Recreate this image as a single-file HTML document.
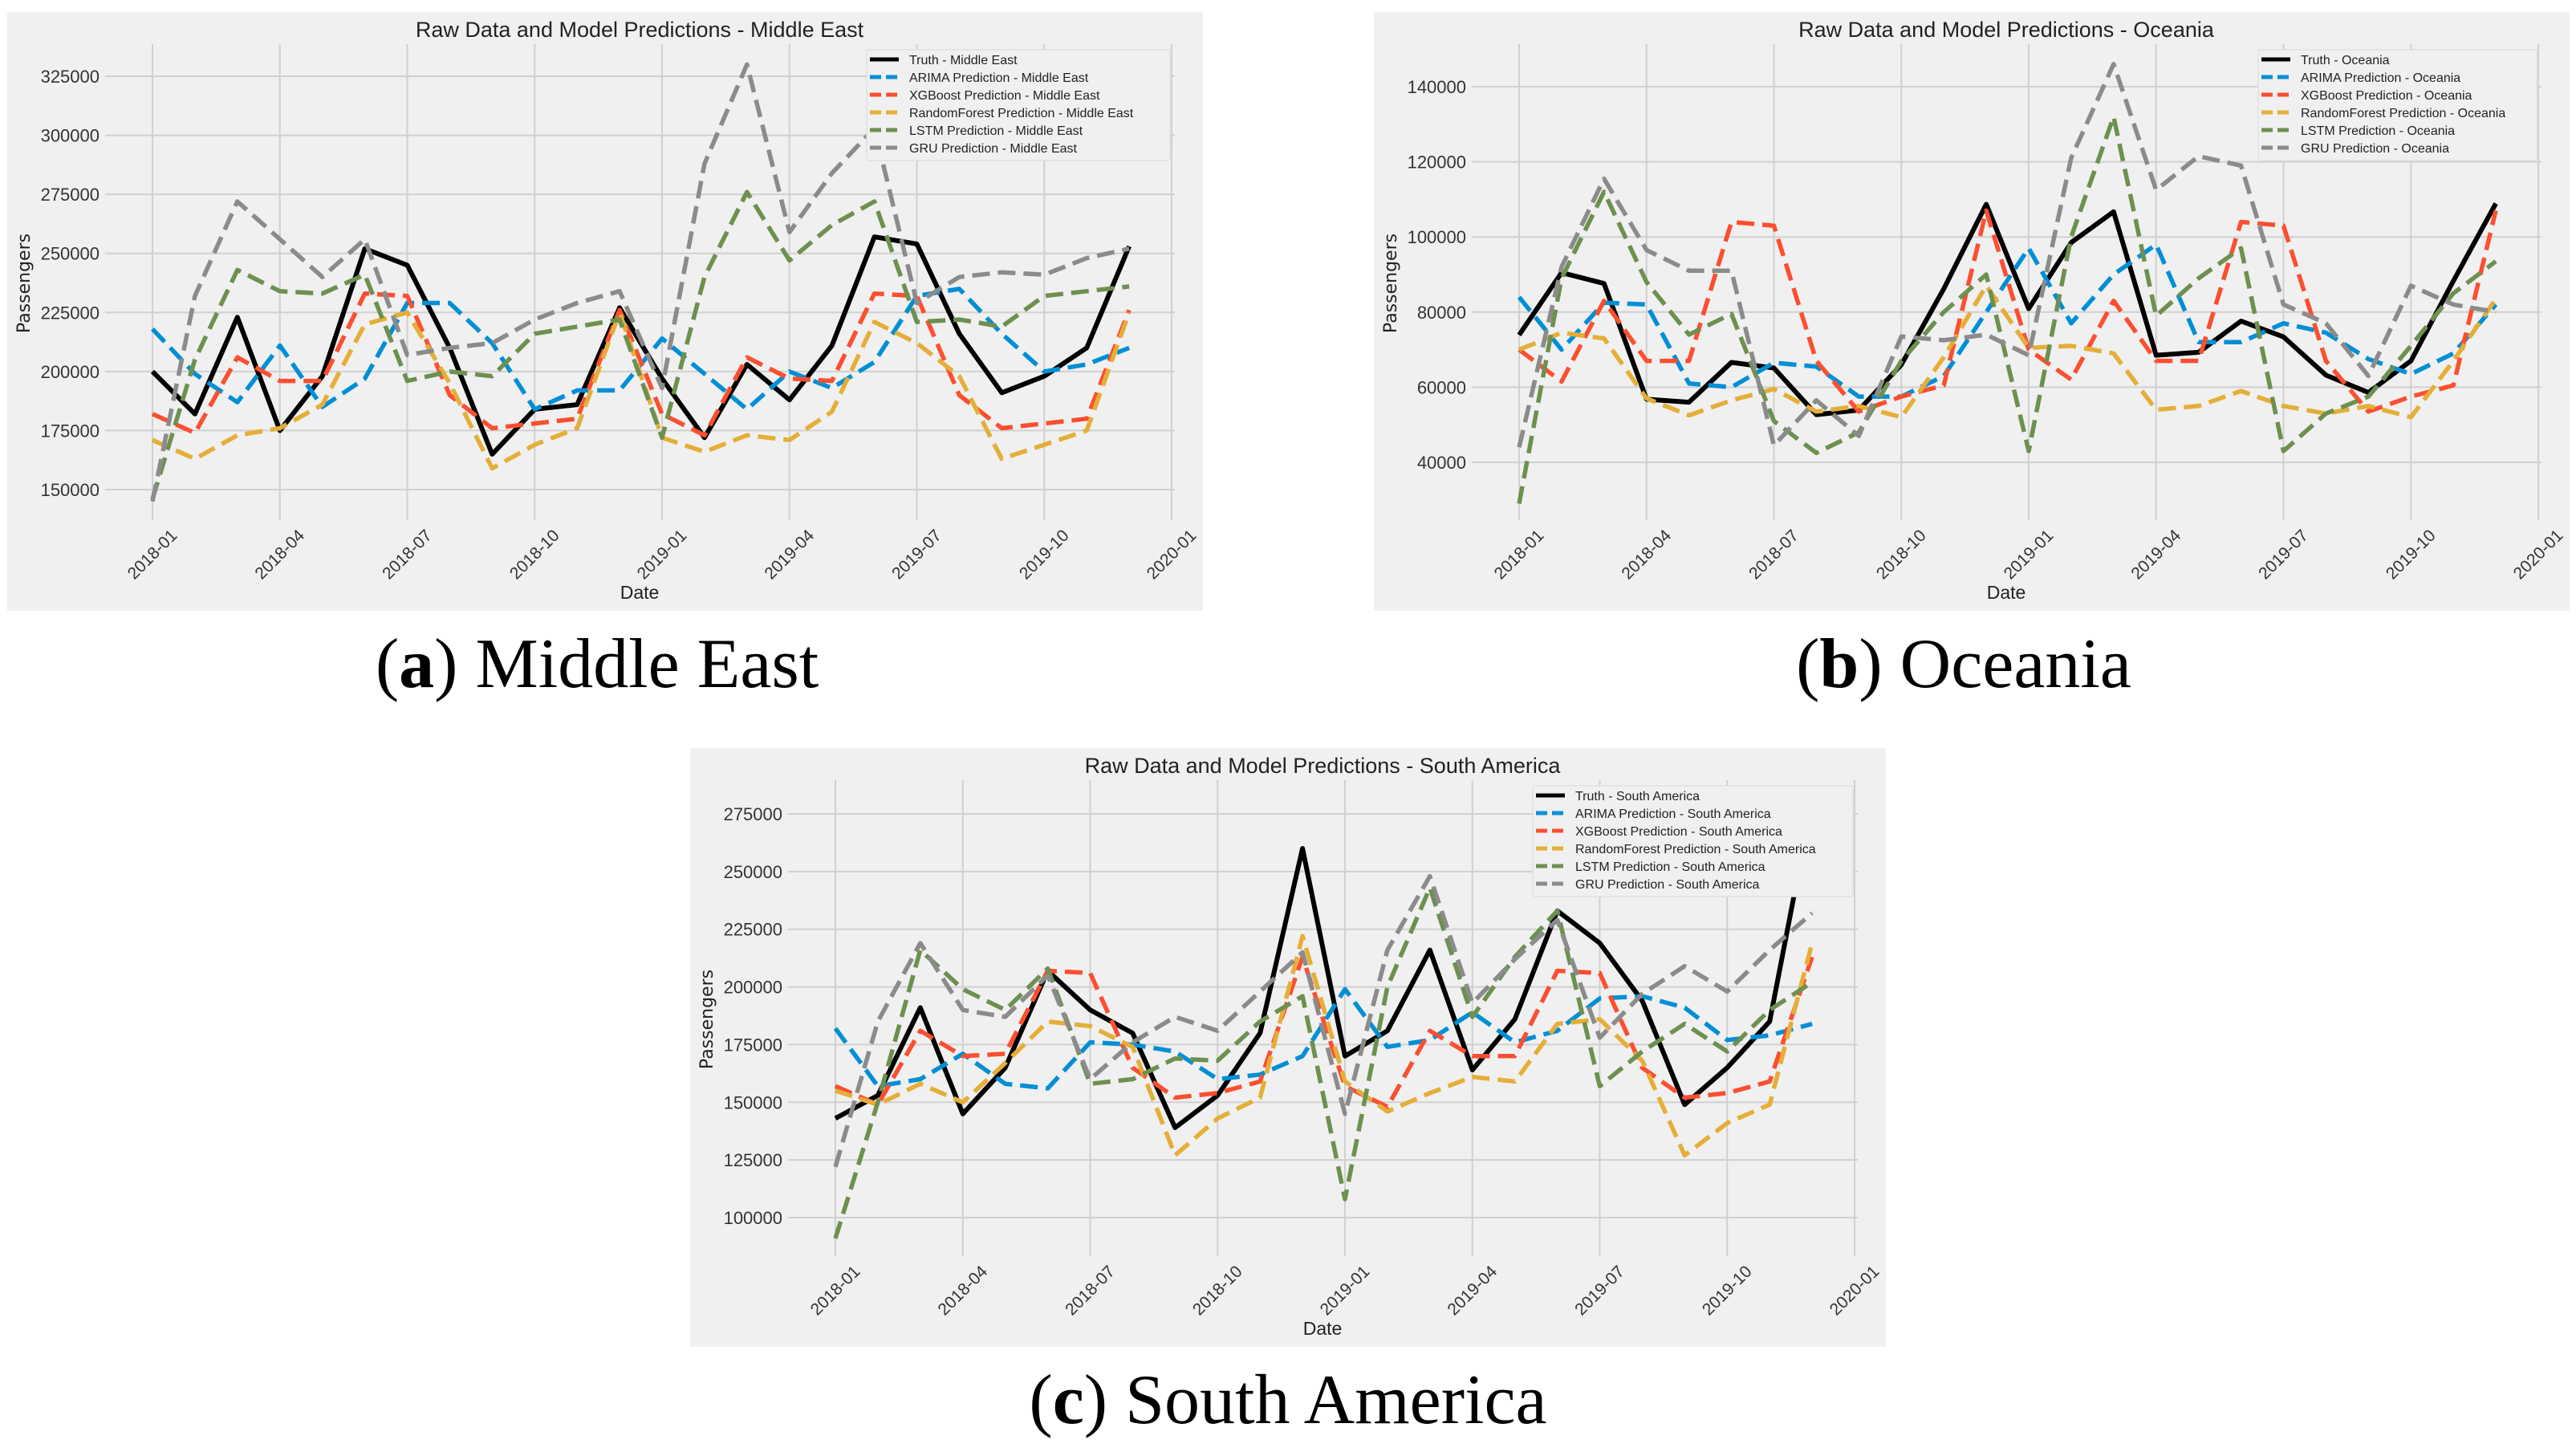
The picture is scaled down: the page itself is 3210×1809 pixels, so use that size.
<!DOCTYPE html>
<html><head><meta charset="utf-8"><style>
html,body{margin:0;padding:0;background:#fff;}
svg text{font-family:"Liberation Sans",sans-serif;}
</style></head><body>
<svg id="root" width="3210" height="1804" xmlns="http://www.w3.org/2000/svg">
<text x="744" y="856" text-anchor="middle" font-size="88" style="font-family:'Liberation Serif',serif">(<tspan font-weight="bold">a</tspan>) Middle East</text>
<text x="2447" y="856" text-anchor="middle" font-size="88" style="font-family:'Liberation Serif',serif">(<tspan font-weight="bold">b</tspan>) Oceania</text>
<text x="1605" y="1773" text-anchor="middle" font-size="88" style="font-family:'Liberation Serif',serif">(<tspan font-weight="bold">c</tspan>) South America</text>
</svg>
<script>
const xTickLabels=["2018-01","2018-04","2018-07","2018-10","2019-01","2019-04","2019-07","2019-10","2020-01"];
const seriesNames=["Truth","ARIMA Prediction","XGBoost Prediction","RandomForest Prediction","LSTM Prediction","GRU Prediction"];
const seriesColors=["#000000","#008fd5","#fc4f30","#e5ae38","#6d904f","#8b8b8b"];

const meTruth=[200000,182000,223000,175000,198000,252000,245000,210000,165000,184000,186000,227000,197000,172000,203000,188000,211000,257000,254000,216000,191000,198000,210000,253000];
const meArima=[218000,199000,187000,211000,185000,197000,229000,229000,212000,184000,192000,192000,214000,199000,184000,200000,193000,204000,232000,235000,216000,200000,203000,210000];
const meXgb=[182000,174000,206000,196000,196000,233000,232000,190000,176000,178000,180000,226000,182000,173000,206000,197000,196000,233000,232000,190000,176000,178000,180000,226000];
const meRf=[171000,163000,173000,176000,186000,220000,225000,195000,159000,169000,176000,225000,172000,166000,173000,171000,183000,221000,212000,198000,163000,169000,175000,225000];
const meLstm=[146000,205000,243000,234000,233000,241000,196000,200000,198000,216000,219000,222000,172000,240000,276000,247000,262000,272000,221000,222000,219000,232000,234000,236000];
const meGru=[145000,232000,272000,256000,240000,256000,207000,210000,212000,222000,229000,234000,193000,288000,330000,259000,284000,303000,229000,240000,242000,241000,248000,252000];
const meYTicks=[150000,175000,200000,225000,250000,275000,300000,325000];

const ocTruth=[73900,90500,87600,56800,56000,66600,65100,52700,53900,66000,86200,108700,80900,98500,106700,68500,69300,77600,73400,63200,58600,67000,88300,108900];
const ocArima=[84000,70000,82500,82000,61000,60000,66500,65500,57500,57500,63000,80000,97000,77000,90000,98000,72000,72000,77000,74500,67500,63500,69000,82000];
const ocXgb=[70000,61500,83000,67000,67000,104000,103000,67000,53500,57500,60500,107000,70000,62000,83000,67000,67000,104000,103000,67000,53500,57500,60500,107000];
const ocRf=[70000,74500,73000,57000,52500,56500,59500,53500,55000,52000,68000,87000,70500,71000,69000,54000,55000,59000,55000,53000,55000,52000,67000,83500];
const ocLstm=[29000,89000,112000,88000,74000,79500,51000,42500,48000,67000,80000,90000,43000,100000,132000,79000,89000,97000,43000,53000,57500,71000,85000,93500];
const ocGru=[44000,92000,115500,96500,91000,91000,44500,56500,47000,73500,72500,74000,68500,121000,146000,112500,121500,119000,82000,77000,63000,87000,82000,80000];
const ocYTicks=[40000,60000,80000,100000,120000,140000];

const saTruth=[143000,153000,191000,145000,165000,207000,190000,180000,139000,153000,180000,260000,170000,181000,216000,164000,186000,233000,219000,194000,149000,165000,185000,280000];
const saArima=[182000,157000,160000,171000,158000,156000,176000,175000,172000,160000,162000,170000,199000,174000,177000,189000,176000,181000,195000,196000,191000,177000,179000,184000];
const saXgb=[157000,149000,181000,170000,171000,207000,206000,165000,152000,154000,159000,213000,157000,148000,181000,170000,170000,207000,206000,165000,152000,154000,159000,213000];
const saRf=[155000,149000,158000,150000,167000,185000,183000,174000,127000,143000,152000,222000,159000,146000,154000,161000,159000,184000,186000,168000,127000,141000,149000,219000];
const saLstm=[91000,150000,216000,199000,190000,208000,158000,160000,169000,168000,185000,196000,108000,200000,243000,187000,213000,233000,157000,172000,184000,172000,190000,202000];
const saGru=[122000,185000,219000,190000,187000,205000,160000,176000,187000,181000,198000,215000,145000,216000,248000,193000,212000,229000,178000,197000,209000,198000,216000,232000];
const saYTicks=[100000,125000,150000,175000,200000,225000,250000,275000];

const NS="http://www.w3.org/2000/svg";
const root=document.getElementById('root');
function mk(tag,attrs,parent){const e=document.createElementNS(NS,tag);for(const k in attrs)e.setAttribute(k,attrs[k]);parent.appendChild(e);return e;}

function drawChart(cfg){
  const g=mk('g',{transform:`translate(${cfg.ox},${cfg.oy})`},root);
  
  
  mk('rect',{x:0,y:0,width:1490,height:746,fill:'#f0f0f0'},g);
  const L=122,R=1455,T=40,B=633;
  const x0=181,x24=1451;
  const xs=i=>x0+i*(x24-x0)/24;
  const ys=v=>cfg.y1+(v-cfg.v1)*(cfg.y2-cfg.y1)/(cfg.v2-cfg.v1);
  cfg.yTicks.forEach(v=>{
    const yy=ys(v);
    const gl=mk('line',{x1:L,x2:R,y1:yy,y2:yy,stroke:'#d0d0d0','stroke-width':2},g);
    
    
    const t=mk('text',{x:115,y:yy+8,'text-anchor':'end','font-size':22,fill:'#333'},g);
    t.textContent=v;
    
    
  });
  xTickLabels.forEach((lab,k)=>{
    const xx=xs(k*3);
    const gl=mk('line',{x1:xx,x2:xx,y1:T,y2:B,stroke:'#d0d0d0','stroke-width':2},g);
    
    
    const t=mk('text',{x:xx,y:676,'text-anchor':'middle','dominant-baseline':'central','font-size':21,fill:'#333',transform:`rotate(-45 ${xx} 676)`},g);
    t.textContent=lab;
    
    
  });
  const tt=mk('text',{x:788,y:31,'text-anchor':'middle','font-size':27,fill:'#222'},g);
  tt.textContent='Raw Data and Model Predictions - '+cfg.region;
  
  
  const xl=mk('text',{x:788,y:731,'text-anchor':'middle','font-size':23,fill:'#222'},g);
  xl.textContent='Date';
  
  
  const yl=mk('text',{x:28,y:338,'text-anchor':'middle','font-size':22,fill:'#222',transform:'rotate(-90 28 338)',style:"font-family:'DejaVu Sans',sans-serif"},g);
  yl.textContent='Passengers';
  
  
  cfg.series.forEach((arr,s)=>{
    const pts=arr.map((v,i)=>xs(i).toFixed(1)+','+ys(v).toFixed(1)).join(' ');
    const attrs={points:pts,fill:'none',stroke:seriesColors[s],'stroke-width':s===0?6:5.5,'stroke-linejoin':'round'};
    if(s>0)attrs['stroke-dasharray']='22 10';
    const pl=mk('polyline',attrs,g);
    
    
  });
  const lg=mk('g',{},g);
  
  
  const lx=cfg.legX;
  mk('rect',{x:lx,y:47,width:1449-lx,height:138,fill:'#f0f0f0',stroke:'#e0e0e0','stroke-width':1.5,rx:3},lg);
  seriesNames.forEach((n,s)=>{
    const yy=59+s*22;
    const ln=mk('line',{x1:lx+4,x2:lx+40,y1:yy,y2:yy,stroke:seriesColors[s],'stroke-width':5},lg);
    if(s>0)ln.setAttribute('stroke-dasharray','14 6');
    const t=mk('text',{x:lx+53,y:yy+6,'font-size':16,fill:'#222'},lg);
    t.textContent=n+' - '+cfg.region;
    
    
  });
}

drawChart({key:'middle-east',region:'Middle East',ox:9,oy:15,v1:325000,y1:80,v2:150000,y2:595,yTicks:meYTicks,legX:1071,
  series:[meTruth,meArima,meXgb,meRf,meLstm,meGru]});
drawChart({key:'oceania',region:'Oceania',ox:1712,oy:15,v1:140000,y1:93,v2:40000,y2:561,yTicks:ocYTicks,legX:1102,
  series:[ocTruth,ocArima,ocXgb,ocRf,ocLstm,ocGru]});
drawChart({key:'south-america',region:'South America',ox:860,oy:932,v1:275000,y1:82,v2:100000,y2:585,yTicks:saYTicks,legX:1050,
  series:[saTruth,saArima,saXgb,saRf,saLstm,saGru]});
</script>
</body></html>
